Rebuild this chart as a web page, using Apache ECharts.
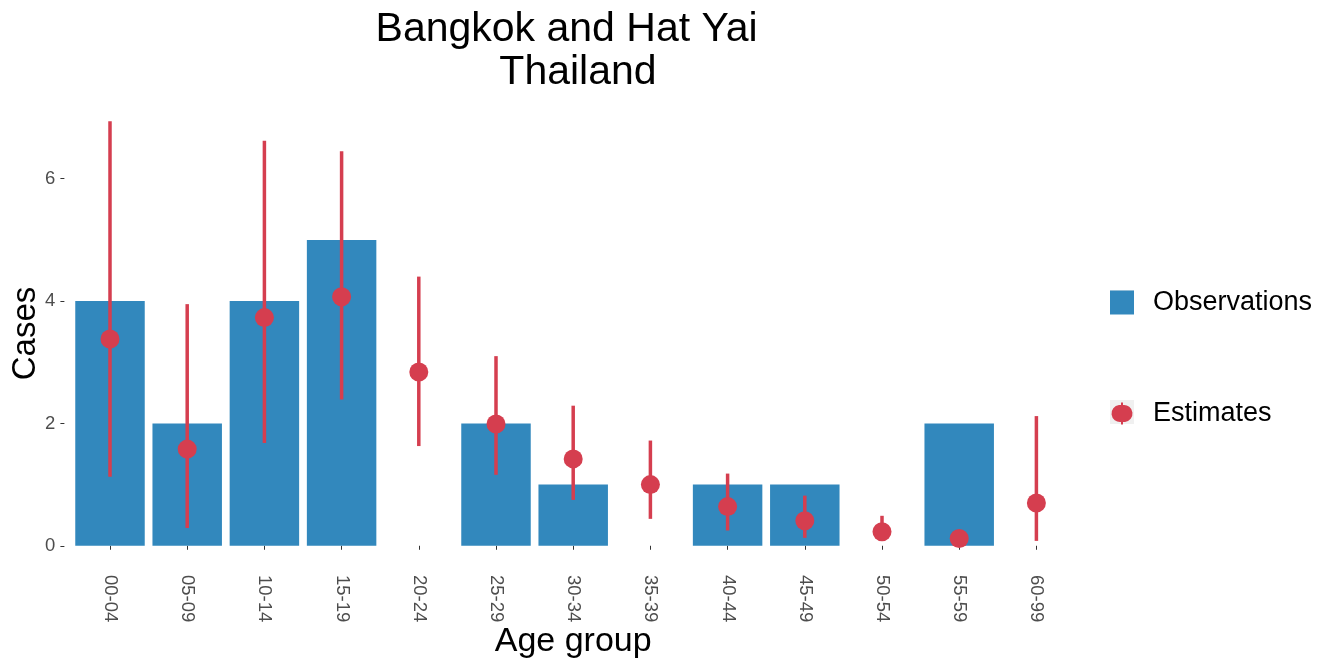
<!DOCTYPE html>
<html>
<head>
<meta charset="utf-8">
<script src="https://cdn.jsdelivr.net/npm/echarts@6/dist/echarts.min.js"></script>
<style>
html, body { margin: 0; padding: 0; background: #ffffff; }
#chart { width: 1328px; height: 662px; }
</style>
</head>
<body>
<div id="chart"></div>
<script>
const categories = ['00-04','05-09','10-14','15-19','20-24','25-29','30-34','35-39','40-44','45-49','50-54','55-59','60-99'];
const observations = [4, 2, 4, 5, 0, 2, 1, 0, 1, 1, 0, 2, 0];
const estimates = [3.38, 1.58, 3.73, 4.07, 2.84, 1.99, 1.42, 1.00, 0.64, 0.41, 0.23, 0.12, 0.70];
const lowerBounds = [1.13, 0.29, 1.68, 2.39, 1.63, 1.16, 0.75, 0.44, 0.25, 0.13, 0.08, 0.03, 0.08];
const upperBounds = [6.94, 3.95, 6.62, 6.45, 4.40, 3.10, 2.29, 1.72, 1.18, 0.82, 0.49, 0.19, 2.12];
const yTickValues = [0, 2, 4, 6];

const BLUE = '#3288bd';
const RED = '#d53e4f';
const FONT = 'Liberation Sans, Arial, Helvetica, sans-serif';

const chart = echarts.init(document.getElementById('chart'), null, { renderer: 'canvas' });

const errorData = categories.map((c, i) => [i, lowerBounds[i], upperBounds[i]]);

const estimateIcon = 'path://M0,0 H0.01 V0.01 Z M24,24 H23.99 V23.99 Z M11,1 H13 V3.56 A8.5,8.5 0 1 1 13,20.44 V23 H11 V20.44 A8.5,8.5 0 1 1 11,3.56 Z';

const option = {
  backgroundColor: '#ffffff',
  animation: false,
  title: {
    text: 'Bangkok and Hat Yai  \nThailand',
    left: 578,
    top: 8,
    padding: 0,
    textAlign: 'center',
    textStyle: { fontFamily: FONT, fontSize: 41, fontWeight: 'normal', color: '#000000', lineHeight: 43 }
  },
  graphic: [
    { type: 'rect', z: 0, shape: { x: 1110, y: 290, width: 24, height: 24 }, style: { fill: '#f0f0f0' } },
    { type: 'rect', z: 0, shape: { x: 1110, y: 400, width: 24, height: 24 }, style: { fill: '#f0f0f0' } }
  ],
  legend: {
    orient: 'vertical',
    left: 1110,
    top: 289,
    padding: 0,
    z: 5,
    itemWidth: 24,
    itemHeight: 24,
    itemGap: 84,
    selectedMode: false,
    textStyle: { fontFamily: FONT, fontSize: 27, color: '#000000', padding: [0, 0, 0, 14] },
    data: [
      { name: 'Observations', icon: 'rect', itemStyle: { color: BLUE } },
      { name: 'Estimates', icon: estimateIcon, itemStyle: { color: RED } }
    ]
  },
  grid: {
    left: 71.4,
    width: 1003.6,
    top: 100,
    height: 467,
    containLabel: false,
    outerBoundsMode: 'none'
  },
  xAxis: {
    type: 'category',
    data: categories,
    name: 'Age group',
    nameLocation: 'middle',
    nameGap: 58,
    nameMoveOverlap: false,
    nameTextStyle: { fontFamily: FONT, fontSize: 34, color: '#000000' },
    axisLine: { show: false },
    axisTick: { show: true, alignWithLabel: true, length: 4, lineStyle: { color: '#333333', width: 1 } },
    axisLabel: { rotate: -90, margin: 8, fontFamily: FONT, fontSize: 18.5, color: '#4d4d4d' },
    splitLine: { show: false }
  },
  yAxis: {
    type: 'value',
    min: -0.347,
    max: 7.287,
    offset: 7,
    name: 'Cases',
    nameLocation: 'middle',
    nameGap: 22,
    nameMoveOverlap: false,
    nameRotate: 90,
    nameTextStyle: { fontFamily: FONT, fontSize: 33, color: '#000000' },
    axisLine: { show: false },
    axisTick: { show: true, length: 4, customValues: yTickValues, lineStyle: { color: '#333333', width: 1 } },
    axisLabel: { margin: 9, fontFamily: FONT, fontSize: 18.5, color: '#4d4d4d', customValues: yTickValues },
    splitLine: { show: false }
  },
  series: [
    {
      name: 'Observations',
      type: 'bar',
      data: observations,
      barCategoryGap: '10%',
      itemStyle: { color: BLUE },
      z: 1
    },
    {
      name: 'Estimates',
      type: 'custom',
      data: errorData,
      encode: { x: 0, y: [1, 2] },
      itemStyle: { color: RED },
      z: 3,
      renderItem: function (params, api) {
        const xi = api.value(0);
        const lo = api.coord([xi, api.value(1)]);
        const hi = api.coord([xi, api.value(2)]);
        return {
          type: 'line',
          shape: { x1: lo[0], y1: lo[1], x2: hi[0], y2: hi[1] },
          style: { stroke: RED, lineWidth: 3.5 }
        };
      }
    },
    {
      name: 'Estimates',
      type: 'scatter',
      data: estimates,
      symbol: 'circle',
      symbolSize: 19,
      itemStyle: { color: RED, opacity: 1 },
      z: 4
    }
  ]
};

chart.setOption(option);
</script>
</body>
</html>
